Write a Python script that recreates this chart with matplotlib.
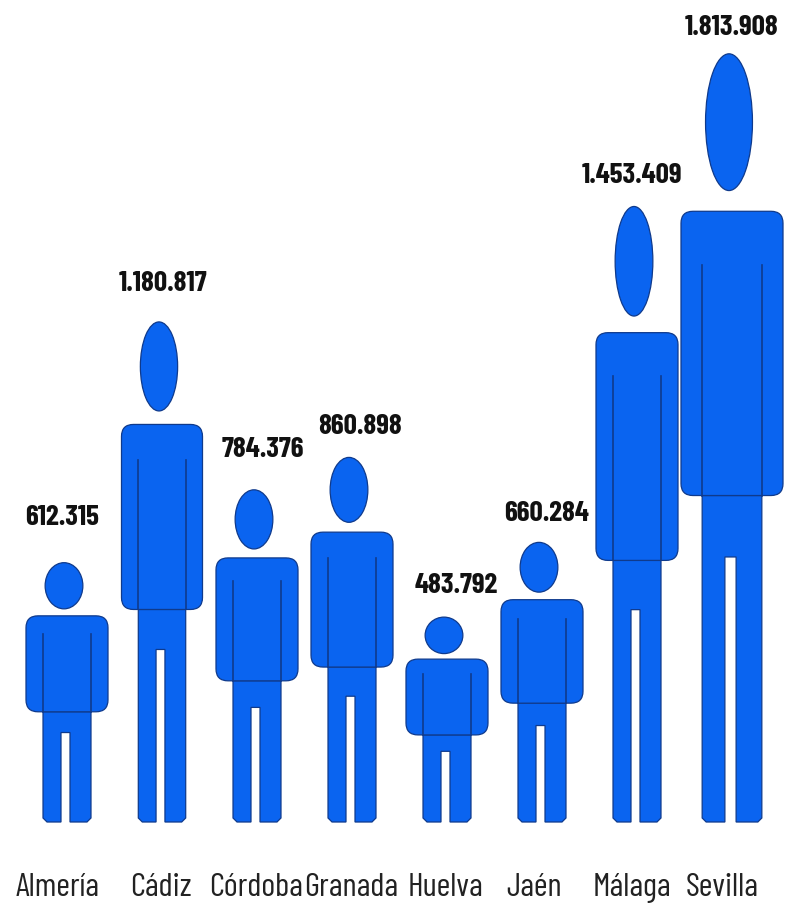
import matplotlib
matplotlib.use("Agg")
import matplotlib.pyplot as plt
from matplotlib.patches import Ellipse, FancyBboxPatch, Polygon

# data
provinces = ["Almería", "Cádiz", "Córdoba", "Granada", "Huelva", "Jaén", "Málaga", "Sevilla"]
population = [612315, 1180817, 784376, 860898, 483792, 660284, 1453409, 1813908]
value_labels = ["612.315", "1.180.817", "784.376", "860.898", "483.792", "660.284", "1.453.409", "1.813.908"]

# layout, in pixels
W, H = 790, 908
base_px = 822
first_px = 67
step_px = 95
px_per_person = 0.0004235
fig_width = [82, 81, 82, 82, 82, 82, 82, 102]
value_dx = [-5, 1, 6, 8, 9, 5, -5, 0]
value_gap = [45, 38, 40, 31, 32, 29, 31, 26]
name_dx = [-9, -1, -1, -1, -1, -8, -5, -10]

blue = "#0a64f0"
edge = "#0f3a8c"
narrow = ["Barlow Condensed", "Liberation Sans"]

fig = plt.figure(figsize=(W / 100, H / 100), dpi=100)
ax = fig.add_axes([0, 0, 1, 1])
ax.set_xlim(-first_px / step_px, (W - first_px) / step_px)
ax.set_ylim(-(H - base_px) / px_per_person, base_px / px_per_person)
ax.axis("off")

x_px = 1 / step_px
y_px = 1 / px_per_person
aspect = y_px / x_px


def draw_person(i, value, width_px):
    w = width_px * x_px
    # legs
    leg_w = 0.585 * w
    gap = 0.11 * w
    cut = 4 * x_px
    cut_y = 4 * y_px
    l = i - leg_w / 2
    r = i + leg_w / 2
    mid = i - 1.5 * x_px
    top = 0.425 * value
    crotch = 0.345 * value
    legs = [(l, top), (l, cut_y), (l + cut, 0), (mid - gap / 2, 0), (mid - gap / 2, crotch),
            (mid + gap / 2, crotch), (mid + gap / 2, 0), (r - cut, 0), (r, cut_y), (r, top)]
    ax.add_patch(Polygon(legs, closed=True, fc=blue, ec=edge, lw=0.9, zorder=2))
    # trunk and arms
    body_top = 0.795 * value
    body = FancyBboxPatch((i - w / 2, top), w, body_top - top,
                          boxstyle="round,pad=0,rounding_size=%f" % (12 * x_px),
                          mutation_aspect=aspect, fc=blue, ec=edge, lw=0.9, zorder=3)
    ax.add_patch(body)
    line_top = top + 0.81 * (body_top - top)
    for sx in (-1, 1):
        ax.plot([i + sx * leg_w / 2] * 2, [top, line_top], color=edge, lw=1.2, zorder=4)
    # head
    head_bot = 0.822 * value
    ax.add_patch(Ellipse((i - 3 * x_px, (head_bot + value) / 2), 0.46 * w, value - head_bot,
                         fc=blue, ec=edge, lw=0.9, zorder=3))


for i, value in enumerate(population):
    draw_person(i, value, fig_width[i])
    ax.text(i + value_dx[i] * x_px, value + value_gap[i] * y_px, value_labels[i],
            ha="center", va="center", fontsize=21, fontweight="bold",
            family=narrow, color="#111111")
    ax.text(i + name_dx[i] * x_px, -66 * y_px, provinces[i],
            ha="center", va="center", fontsize=24, family=narrow, color="#222222")

fig.savefig("out.png", dpi=100, facecolor="white")
